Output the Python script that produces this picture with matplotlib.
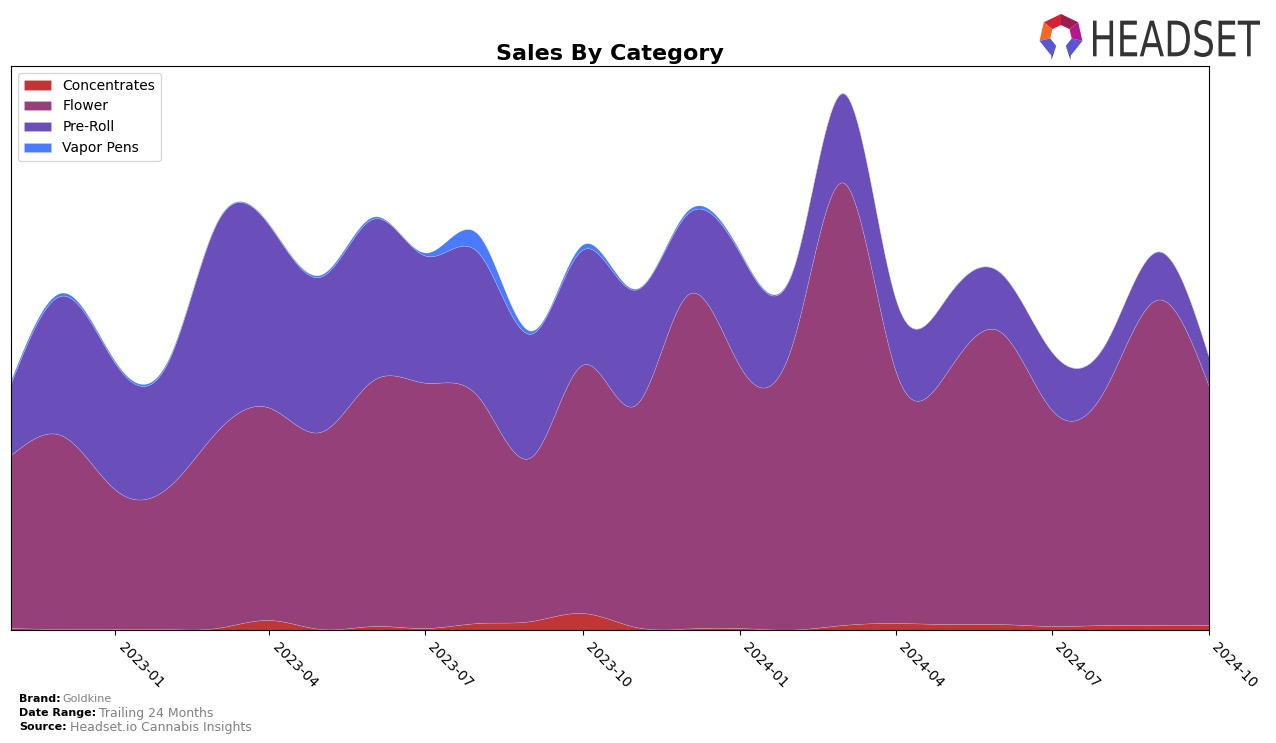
import numpy as np
import pandas as pd
import matplotlib
matplotlib.use("Agg")
import matplotlib.pyplot as plt
import matplotlib.dates as mdates
from matplotlib.textpath import TextPath
from matplotlib.patches import PathPatch, Polygon
from matplotlib.font_manager import FontProperties
from matplotlib.transforms import Affine2D, IdentityTransform

# Monthly sales by category (relative units)
months = pd.date_range("2022-11-01", periods=24, freq="MS")
concentrates = [2, 1, 1, 1, 2, 10, 1, 4, 2, 7, 9, 17, 3, 1.5, 2, 0.5, 5, 7, 6, 6, 4, 5, 5, 5]
flower = [173, 193, 139, 142, 196, 212, 197, 246, 245, 226, 164, 248, 222, 333, 261, 288,
          442, 251, 252, 292, 216, 235, 325, 238]
pre_roll = [72, 140, 126, 126, 208, 182, 155, 161, 127, 144, 123, 115, 115, 81, 113, 72,
            89, 72, 75, 59, 58, 45, 48, 29]
vapor_pens = [3, 3, 2, 2, 1, 1, 2, 2, 3, 18, 3, 5, 1, 3, 2, 1, 0.5, 0.3, 0.3, 0.3, 0.3, 0.3, 0.3, 0.3]
labels = ["Concentrates", "Flower", "Pre-Roll", "Vapor Pens"]
colors = ["#C13537", "#954079", "#6A4FBB", "#4A7BFF"]


def natural_spline(x, y, xs):
    # plain natural cubic spline, so the areas come out smooth like the original
    x = np.asarray(x, float)
    y = np.asarray(y, float)
    n = len(x)
    h = np.diff(x)
    A = np.zeros((n, n))
    b = np.zeros(n)
    A[0, 0] = A[-1, -1] = 1
    for i in range(1, n - 1):
        A[i, i - 1] = h[i - 1]
        A[i, i] = 2 * (h[i - 1] + h[i])
        A[i, i + 1] = h[i]
        b[i] = 3 * ((y[i + 1] - y[i]) / h[i] - (y[i] - y[i - 1]) / h[i - 1])
    c = np.linalg.solve(A, b)
    bb = (y[1:] - y[:-1]) / h - h * (2 * c[:-1] + c[1:]) / 3
    d = (c[1:] - c[:-1]) / (3 * h)
    idx = np.clip(np.searchsorted(x, xs) - 1, 0, n - 2)
    dx = xs - x[idx]
    return y[idx] + bb[idx] * dx + c[idx] * dx ** 2 + d[idx] * dx ** 3


xnum = mdates.date2num(months)
xs = np.linspace(xnum[0], xnum[-1], 1500)
series = [concentrates, flower, pre_roll, vapor_pens]
smooth = [np.clip(natural_spline(xnum, s, xs), 0, None) for s in series]

fig = plt.figure(figsize=(12.76, 7.43), dpi=100)
ax = fig.add_axes([11 / 1276, 113 / 743, 1198 / 1276, 564 / 743])

ax.stackplot(xs, *smooth, labels=labels, colors=colors, linewidth=0.4, edgecolor="#ffffff40")

total = np.sum(smooth, axis=0)
ax.set_xlim(xnum[0], xnum[-1])
ax.set_ylim(0, total.max() * 1.05)
ax.set_yticks([])

ax.xaxis.set_major_locator(mdates.MonthLocator(bymonth=[1, 4, 7, 10]))
ax.xaxis.set_major_formatter(mdates.DateFormatter("%Y-%m"))
for lbl in ax.get_xticklabels():
    lbl.set_rotation(-45)
    lbl.set_ha("left")
    lbl.set_fontsize(10)

ax.set_title("Sales By Category", fontsize=16, fontweight="bold", pad=4)
ax.legend(loc="upper left", fontsize=10, borderaxespad=0.5)

# footer
fig.text(19 / 1276, 1 - 699 / 743, "Brand:", fontsize=8, fontweight="bold", va="center")
fig.text(62 / 1276, 1 - 699 / 743, "Goldkine", fontsize=8, color="grey", va="center")
fig.text(19 / 1276, 1 - 713 / 743, "Date Range:", fontsize=8, fontweight="bold", va="center")
fig.text(99 / 1276, 1 - 713 / 743, "Trailing 24 Months", fontsize=9, color="grey", va="center")
fig.text(19 / 1276, 1 - 727 / 743, "Source:", fontsize=8, fontweight="bold", va="center")
fig.text(70 / 1276, 1 - 727 / 743, "Headset.io Cannabis Insights", fontsize=9, color="grey", va="center")

# HEADSET logo (pixel coords, origin bottom-left)
H = 743
tp = TextPath((0, 0), "HEADSET", size=50, prop=FontProperties(family="DejaVu Sans"))
ext = tp.get_extents()
sx = 167 / ext.width
sy = 37 / ext.height
tr = Affine2D().translate(-ext.x0, -ext.y0).scale(sx, sy).translate(1093, H - 57)
fig.patches.append(PathPatch(tr.transform_path(tp), facecolor="#333333", edgecolor="none",
                             transform=IdentityTransform(), figure=fig))


def logo_poly(pts, col):
    fig.patches.append(Polygon(pts, closed=True, facecolor=col, edgecolor="none",
                               transform=IdentityTransform(), figure=fig))


cx, cy = 1061, H - 36
r_out, r_in = 22, 11
ang = np.deg2rad(90 + np.arange(8) * 360 / 7)
seg_cols = ["#D42137", "#F26B21", "#5A55D0", None, "#5A55D0", "#B5178F", "#9E1B4F"]
for i in range(7):
    if seg_cols[i] is None:
        continue
    a0, a1 = ang[i], ang[i + 1]
    logo_poly([(cx + r_out * np.cos(a0), cy + r_out * np.sin(a0)),
               (cx + r_out * np.cos(a1), cy + r_out * np.sin(a1)),
               (cx + r_in * np.cos(a1), cy + r_in * np.sin(a1)),
               (cx + r_in * np.cos(a0), cy + r_in * np.sin(a0))], seg_cols[i])
# dark legs under the lower segments
for k in (2, 4):
    a_mid = (ang[k] + ang[k + 1]) / 2
    p_out = ang[3] if k == 2 else ang[4]
    tip_x = cx + r_out * np.cos(p_out)
    logo_poly([(cx + r_out * np.cos(ang[k + (1 if k == 2 else 0)]), cy + r_out * np.sin(ang[3])),
               (cx + r_in * np.cos(p_out), cy + r_in * np.sin(p_out)),
               (tip_x, H - 60)], "#2B2F8F")

fig.savefig("out.png", dpi=100)
